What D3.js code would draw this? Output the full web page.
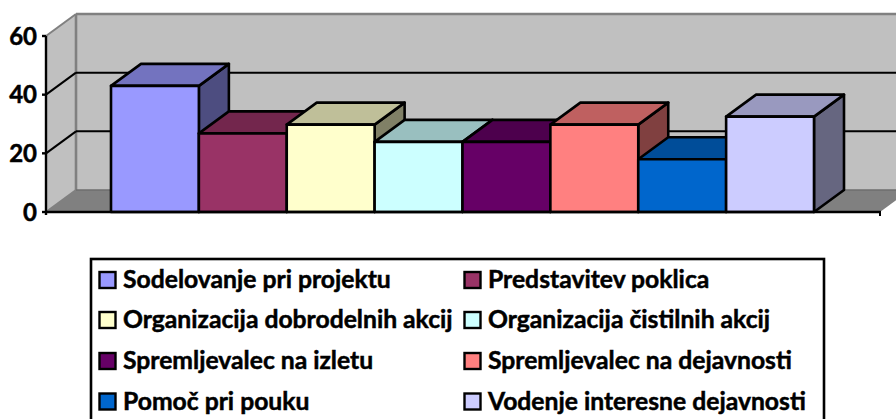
<!DOCTYPE html>
<html><head><meta charset="utf-8">
<script src="https://cdn.jsdelivr.net/npm/d3@7"></script>
<style>html,body{margin:0;padding:0;background:#fff;overflow:hidden}svg{display:block}text{font-family:Lato,"Open Sans",sans-serif;font-weight:700;fill:#000;stroke:#000;stroke-width:.5px}</style>
</head><body><svg id="c" width="896" height="419"></svg>
<script>
const categories=["Sodelovanje pri projektu","Predstavitev poklica","Organizacija dobrodelnih akcij","Organizacija čistilnih akcij","Spremljevalec na izletu","Spremljevalec na dejavnosti","Pomoč pri pouku","Vodenje interesne dejavnosti"];
const values=[43,26.8,29.8,23.9,23.9,29.8,18,32.5];
const colors=["#9999ff","#993366","#ffffcc","#ccffff","#660066","#ff8080","#0066cc","#ccccff"];
const yTicks=[0,20,40,60];
const W=896,H=419,dx=30,dy=-22;
const svg=d3.select("#c");
const y=d3.scaleLinear().domain([0,60]).range([212,36]);
const x=d3.scaleBand().domain(categories).range([111,814]);
const x0=46,x1=880;
const poly=(pts,fill,stroke,sw)=>svg.append("polygon").attr("points",pts.map(p=>p.join(",")).join(" ")).attr("fill",fill).attr("stroke",stroke||"none").attr("stroke-width",sw||0).attr("stroke-linejoin","round");
const line=(a,b,stroke,sw)=>svg.append("line").attr("x1",a[0]).attr("y1",a[1]).attr("x2",b[0]).attr("y2",b[1]).attr("stroke",stroke).attr("stroke-width",sw);
// walls
poly([[x0+dx,y(60)+dy],[x1+dx,y(60)+dy],[x1+dx,y(0)+dy],[x0+dx,y(0)+dy]],"#c0c0c0");
poly([[x0,y(60)],[x0+dx,y(60)+dy],[x0+dx,y(0)+dy],[x0,y(0)]],"#c0c0c0");
poly([[x0,y(0)],[x0+dx,y(0)+dy],[x1+dx,y(0)+dy],[x1,y(0)]],"#808080");
// wall edges
line([x0+dx,y(60)+dy],[x1+dx,y(60)+dy],"#808080",2.6);
line([x0+dx,y(60)+dy],[x0+dx,y(0)+dy],"#808080",2.6);
line([x0,y(60)],[x0+dx,y(60)+dy],"#808080",2);
line([x0,y(0)],[x0+dx,y(0)+dy],"#808080",2);
line([x0+dx,y(0)+dy],[x1+dx,y(0)+dy],"#6e6e6e",1.5);
// gridlines
[20,40].forEach(v=>{
  line([x0,y(v)],[x0+dx,y(v)+dy],"#000",2);
  line([x0+dx,y(v)+dy],[x1+dx,y(v)+dy],"#000",2);
});
// bars
categories.forEach((c,i)=>{
  const col=d3.color(colors[i]);
  const sh=k=>d3.rgb(col.r*k,col.g*k,col.b*k).formatHex();
  const l=x(c),r=l+x.bandwidth(),t=y(values[i]),b=y(0);
  poly([[r,t],[r+dx,t+dy],[r+dx,b+dy],[r,b]],sh(.5),"#000",2.6);
  poly([[l,t],[r,t],[r+dx,t+dy],[l+dx,t+dy]],sh(.75),"#000",2.6);
  poly([[l,t],[r,t],[r,b],[l,b]],colors[i],"#000",2.6);
});
// axes
line([x0,y(60)],[x0,y(0)+3],"#000",2.4);
line([x0-1,y(0)],[x1+1,y(0)],"#000",2.4);
line([x1,y(0)],[x1,y(0)+4],"#000",2);
yTicks.forEach(v=>{
  line([x0-4,y(v)],[x0,y(v)],"#000",2.4);
  svg.append("text").attr("x",37).attr("y",y(v)+8.5).attr("text-anchor","end").attr("font-size",24).text(v);
});
// legend
svg.append("rect").attr("x",91).attr("y",259).attr("width",733).attr("height",175).attr("fill","#fff").attr("stroke","#000").attr("stroke-width",2.6);
const colX=[99.5,464.5],rowY=[280,320,361,401.5];
categories.forEach((c,i)=>{
  const sx=colX[i%2],cy=rowY[Math.floor(i/2)];
  svg.append("rect").attr("x",sx).attr("y",cy-8).attr("width",16).attr("height",16).attr("fill",colors[i]).attr("stroke","#000").attr("stroke-width",2.4);
  svg.append("text").attr("x",sx+23.5).attr("y",cy+8).attr("font-size",24.7).text(c);
});
</script></body></html>
